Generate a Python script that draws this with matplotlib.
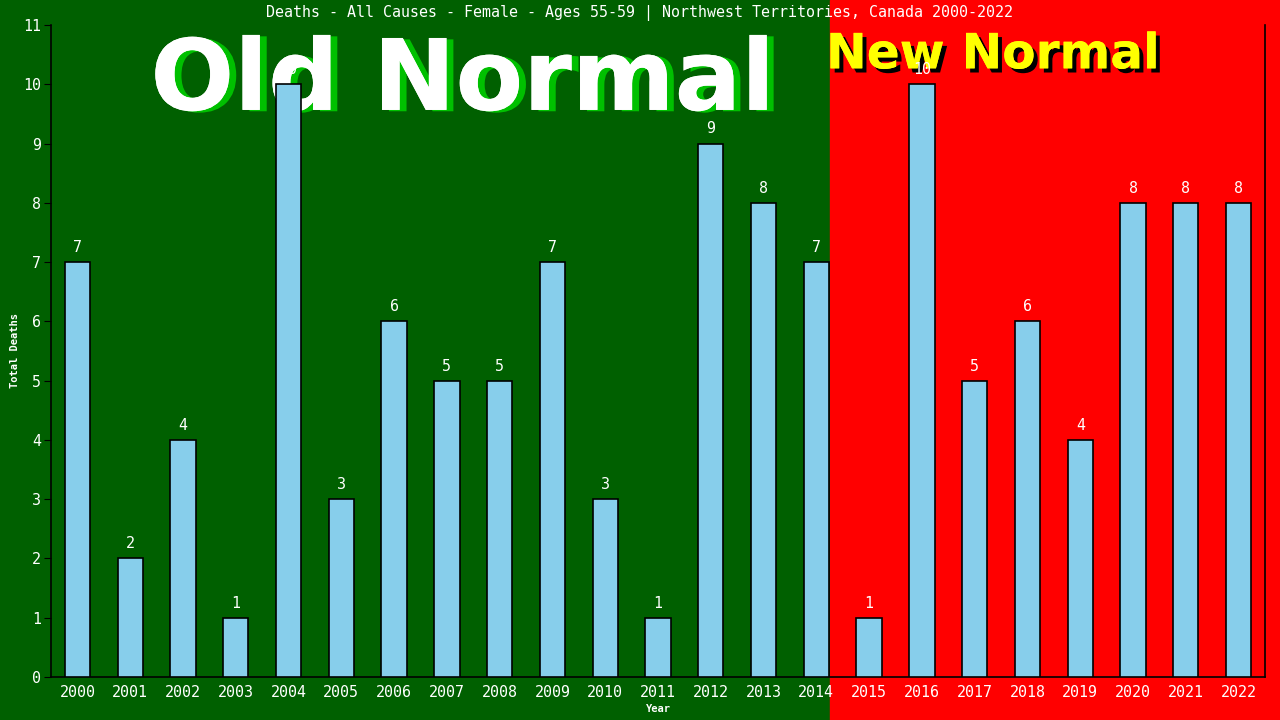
import numpy as np
import matplotlib
matplotlib.use("Agg")
import matplotlib.pyplot as plt
import matplotlib.patheffects as pe
from matplotlib.patches import Rectangle
from matplotlib.transforms import blended_transform_factory

years = list(range(2000, 2023))
deaths = [7, 2, 4, 1, 10, 3, 6, 5, 5, 7, 3, 1, 9, 8, 7, 1, 10, 5, 6, 4, 8, 8, 8]
split_year = 2015

title = "Deaths - All Causes - Female - Ages 55-59 | Northwest Territories, Canada 2000-2022"
mono = "DejaVu Sans Mono"

fig = plt.figure(figsize=(12.8, 7.2), dpi=100)
fig.patch.set_facecolor("#006000")
ax = fig.add_axes([51/1280, 43/720, 1214/1280, 652/720])
ax.set_facecolor("none")

x = np.arange(len(years))
ax.bar(x, deaths, width=0.48, color="#87CEEB", edgecolor="black", linewidth=1.2, zorder=3)

ax.set_xlim(-0.5, len(years) - 0.5)
ax.set_ylim(0, 11)

# red background from the split onward, full figure height
split = years.index(split_year) - 0.74
tr = blended_transform_factory(ax.transData, fig.transFigure)
fig.patches.append(Rectangle((split, 0), 30, 1, transform=tr, color="#ff0000",
                             zorder=-10, clip_on=False, figure=fig))

for xi, v in zip(x, deaths):
    ax.text(xi, v + 0.12, str(v), ha="center", va="bottom", color="white",
            fontsize=10.8, family=mono, zorder=4)

ax.set_xticks(x)
ax.set_xticklabels([str(y) for y in years], family=mono, fontsize=10.8, color="white")
ax.set_yticks(range(0, 12))
ax.set_yticklabels([str(i) for i in range(0, 12)], family=mono, fontsize=10.8, color="white")
ax.tick_params(axis="x", length=0, pad=6)
ax.tick_params(axis="y", length=5, color="black", pad=2)

for s in ["left", "bottom", "right"]:
    ax.spines[s].set_color("black")
    ax.spines[s].set_linewidth(1.2)
ax.spines["top"].set_visible(False)

ax.set_xlabel("Year", family=mono, fontsize=7.5, color="white", weight="bold", labelpad=3)
ax.set_ylabel("Total Deaths", family=mono, fontsize=7.5, color="white", weight="bold", labelpad=2.5)

fig.text(0.5, 1 - 13/720, title, ha="center", va="center", color="white",
         fontsize=10.8, family=mono)

ax.text(0.339, 0.912, "Old Normal", transform=ax.transAxes, ha="center", va="center",
        fontsize=71, weight="bold", color="white", zorder=2,
        path_effects=[pe.withSimplePatchShadow(offset=(5, -1), shadow_rgbFace="#00c000", alpha=1),
                      pe.Normal()])
ax.text(0.776, 0.955, "New Normal", transform=ax.transAxes, ha="center", va="center",
        fontsize=35, weight="bold", color="#ffff00", zorder=2,
        path_effects=[pe.withSimplePatchShadow(offset=(3, -3), shadow_rgbFace="black", alpha=1),
                      pe.Normal()])

fig.savefig("out.png", dpi=100, facecolor=fig.get_facecolor())
